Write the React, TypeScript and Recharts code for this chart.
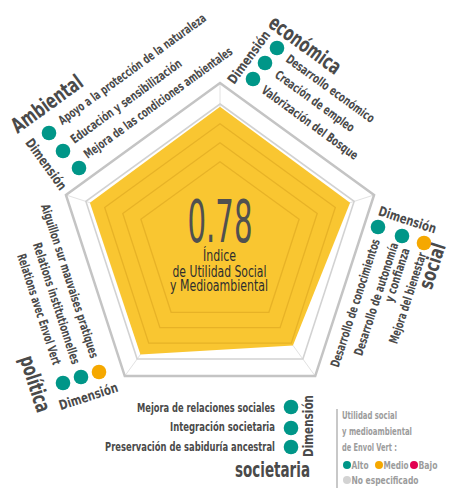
import React from 'react';
import { RadarChart, Radar, PolarGrid, PolarAngleAxis, PolarRadiusAxis } from 'recharts';

// Radar vertices (between the five dimensions) and their scores
const vertices = ['Ambiental / Económica', 'Económica / Social', 'Social / Societaria', 'Societaria / Política', 'Política / Ambiental'];
const vertexValues = [0.98, 0.97, 0.88, 0.96, 0.97];
const ringValues = [0.59, 0.725, 0.86, 1];
const indexValue = '0.78';
const indexLines = ['Índice', 'de Utilidad Social', 'y Medioambiental'];

// Indicators per dimension and their level
const ambientalItems = ['Apoyo a la protección de la naturaleza', 'Educación y sensibilización', 'Mejora de las condiciones ambientales'];
const ambientalStatus = ['alto', 'alto', 'alto'];
const economicaItems = ['Desarrollo económico', 'Creación de empleo', 'Valorización del Bosque'];
const economicaStatus = ['alto', 'alto', 'alto'];
const socialItems = ['Desarrollo de conocimientos', 'Desarrollo de autonomía', 'y confianza', 'Mejora del bienestar'];
const socialStatus = ['alto', 'alto', 'medio'];
const politicaItems = ['Aiguillon sur mauvaises pratiques', 'Relations institutionnelles', 'Relations avec Envol Vert'];
const politicaStatus = ['alto', 'alto', 'medio'];
const societariaItems = ['Mejora de relaciones sociales', 'Integración societaria', 'Preservación de sabiduría ancestral'];
const societariaStatus = ['alto', 'alto', 'alto'];

const legendTitle = ['Utilidad social', 'y medioambiental', 'de Envol Vert :'];
const legendLevels = ['Alto', 'Medio', 'Bajo'];
const legendNone = 'No especificado';

const STATUS_COLORS: Record<string, string> = {
  alto: '#009688',
  medio: '#F5A800',
  bajo: '#E2004F',
  none: '#D3D3D3',
};
const levelKeys = ['alto', 'medio', 'bajo'];

const W = 449;
const H = 488;
const CX = 220;
const CY = 245;
const GRID_R = 141;
const FRAME_R = 162;
const DOMAIN_MAX = FRAME_R / GRID_R;
const FONT = "'Liberation Sans Narrow', 'Arial Narrow', 'DejaVu Sans Condensed', Roboto, sans-serif";
const TEXT = '#4a4a4a';

const chartData = vertices.map((v, i) => ({ vertex: v, value: vertexValues[i] }));

type LabelProps = {
  x: number;
  y: number;
  angle?: number;
  len: number;
  size?: number;
  weight?: number;
  fill?: string;
  anchor?: 'start' | 'middle' | 'end';
  baseline?: string;
  children: React.ReactNode;
};

const Label = ({ x, y, angle = 0, len, size = 12.5, weight = 700, fill = TEXT, anchor = 'middle', baseline = 'central', children }: LabelProps) => (
  <text
    transform={`translate(${x},${y}) rotate(${angle})`}
    textAnchor={anchor}
    dominantBaseline={baseline as any}
    fontSize={size}
    fontWeight={weight}
    fill={fill}
    fontFamily={FONT}
    textLength={len}
    lengthAdjust="spacingAndGlyphs"
  >
    {children}
  </text>
);

const Dots = ({ pts, status, r = 7.3 }: { pts: number[][]; status: string[]; r?: number }) => (
  <g>
    {pts.map((p, i) => (
      <circle key={i} cx={p[0]} cy={p[1]} r={r} fill={STATUS_COLORS[status[i]]} />
    ))}
  </g>
);

const chartProps = {
  width: W,
  height: H,
  cx: CX,
  cy: CY,
  outerRadius: FRAME_R,
  data: chartData,
  margin: { top: 0, right: 0, bottom: 0, left: 0 },
};

export default function App() {
  const rings = ringValues.map((v) => v * GRID_R);
  return (
    <div style={{ position: 'absolute', left: 0, top: 0, width: W, height: H, background: '#fff' }}>
      {/* base: spokes, frame and the yellow score area */}
      <div style={{ position: 'absolute', left: 0, top: 0 }}>
        <RadarChart {...chartProps}>
          <PolarAngleAxis dataKey="vertex" tick={false} axisLine={false} tickLine={false} />
          <PolarRadiusAxis domain={[0, DOMAIN_MAX]} tick={false} axisLine={false} tickLine={false} />
          <PolarGrid gridType="polygon" polarRadius={[]} radialLines stroke="#e2e2e2" strokeWidth={1} />
          <PolarGrid gridType="polygon" polarRadius={[FRAME_R]} radialLines={false} stroke="#c4c4c4" strokeWidth={2.5} />
          <Radar dataKey="value" fill="#F9C631" fillOpacity={1} stroke="none" isAnimationActive={false} />
        </RadarChart>
      </div>

      {/* rings drawn over the yellow area */}
      <div style={{ position: 'absolute', left: 0, top: 0, pointerEvents: 'none' }}>
        <RadarChart {...chartProps}>
          <PolarAngleAxis dataKey="vertex" tick={false} axisLine={false} tickLine={false} />
          <PolarRadiusAxis domain={[0, DOMAIN_MAX]} tick={false} axisLine={false} tickLine={false} />
          <PolarGrid gridType="polygon" polarRadius={rings.slice(0, 3)} radialLines={false} stroke="rgba(170,110,0,0.22)" strokeWidth={1.3} />
          <PolarGrid gridType="polygon" polarRadius={[rings[3]]} radialLines={false} stroke="#d2d2d2" strokeWidth={1.6} />
        </RadarChart>
      </div>

      <svg width={W} height={H} style={{ position: 'absolute', left: 0, top: 0, pointerEvents: 'none' }}>
        {/* index in the centre */}
        <Label x={220} y={242} len={65} size={58} weight={400} fill="#505050" baseline="alphabetic">{indexValue}</Label>
        <Label x={219.5} y={261} len={33} size={16.5} weight={400} fill="#2e2e2e" baseline="alphabetic">{indexLines[0]}</Label>
        <Label x={219.5} y={276.5} len={94} size={16.5} weight={400} fill="#2e2e2e" baseline="alphabetic">{indexLines[1]}</Label>
        <Label x={219} y={291} len={98} size={16.5} weight={400} fill="#2e2e2e" baseline="alphabetic">{indexLines[2]}</Label>

        {/* Ambiental */}
        <Label x={132} y={69} angle={-36} len={179}>{ambientalItems[0]}</Label>
        <Label x={126} y={101} angle={-36} len={134}>{ambientalItems[1]}</Label>
        <Label x={158} y={102.5} angle={-36} len={180}>{ambientalItems[2]}</Label>
        <Label x={47} y={104} angle={-36} len={83} size={21}>Ambiental</Label>
        <Label x={46.5} y={164} angle={54} len={60} size={13.5}>Dimensión</Label>
        <Dots pts={[[49, 133], [63, 151], [79, 168]]} status={ambientalStatus} />

        {/* Económica */}
        <Label x={305} y={45} angle={36} len={84} size={21}>económica</Label>
        <Label x={248.5} y={57} angle={-54} len={62} size={13.5}>Dimensión</Label>
        <Dots pts={[[277, 48], [265, 63], [253, 79]]} status={economicaStatus} />
        <Label x={330.5} y={88.5} angle={36} len={106}>{economicaItems[0]}</Label>
        <Label x={315} y={101} angle={36} len={95}>{economicaItems[1]}</Label>
        <Label x={310} y={122.5} angle={36} len={116}>{economicaItems[2]}</Label>

        {/* Social */}
        <Label x={407.5} y={219.5} angle={18} len={60} size={13.5}>Dimensión</Label>
        <Dots pts={[[378, 227], [402, 236], [424, 243]]} status={socialStatus} />
        <Label x={432} y={266} angle={-72} len={47} size={20}>social</Label>
        <Label x={355} y={303} angle={-72} len={134}>{socialItems[0]}</Label>
        <Label x={376} y={299} angle={-72} len={118}>{socialItems[1]}</Label>
        <Label x={397} y={275} angle={-72} len={56}>{socialItems[2]}</Label>
        <Label x={407.5} y={298} angle={-72} len={95}>{socialItems[3]}</Label>

        {/* Política */}
        <Label x={70} y={281} angle={72} len={161}>{politicaItems[0]}</Label>
        <Label x={56.7} y={303.3} angle={72} len={127}>{politicaItems[1]}</Label>
        <Label x={39.2} y={309.2} angle={72} len={116}>{politicaItems[2]}</Label>
        <Label x={35} y={384} angle={72} len={58} size={21}>política</Label>
        <Label x={88.3} y={396} angle={-18} len={61} size={13.5}>Dimensión</Label>
        <Dots pts={[[63, 383], [81, 377], [99, 372]]} status={politicaStatus} />

        {/* Societaria */}
        <Label x={275} y={411.5} len={138} size={13} anchor="end" baseline="alphabetic">{societariaItems[0]}</Label>
        <Label x={275} y={431} len={105} size={13} anchor="end" baseline="alphabetic">{societariaItems[1]}</Label>
        <Label x={275} y={450.5} len={170} size={13} anchor="end" baseline="alphabetic">{societariaItems[2]}</Label>
        <Dots pts={[[291, 407], [291, 428], [291, 447]]} status={societariaStatus} />
        <Label x={308} y={426} angle={-90} len={62} size={13.5}>Dimensión</Label>
        <Label x={310} y={477} len={75} size={21} anchor="end" baseline="alphabetic">societaria</Label>

        {/* Legend */}
        <line x1={337} y1={409} x2={337} y2={488} stroke="#c8c8c8" strokeWidth={2} />
        <Label x={342} y={419} len={55} size={10.5} fill="#9c9c9c" anchor="start" baseline="alphabetic">{legendTitle[0]}</Label>
        <Label x={342} y={435} len={70} size={10.5} fill="#9c9c9c" anchor="start" baseline="alphabetic">{legendTitle[1]}</Label>
        <Label x={342} y={451} len={55} size={10.5} fill="#9c9c9c" anchor="start" baseline="alphabetic">{legendTitle[2]}</Label>
        {legendLevels.map((lv, i) => {
          const xs = [347, 379, 414];
          const lens = [17, 25, 19];
          return (
            <g key={lv}>
              <circle cx={xs[i]} cy={465} r={4} fill={STATUS_COLORS[levelKeys[i]]} />
              <Label x={xs[i] + 4.5} y={468.5} len={lens[i]} size={10.5} fill="#9c9c9c" anchor="start" baseline="alphabetic">{lv}</Label>
            </g>
          );
        })}
        <circle cx={347} cy={480} r={4} fill={STATUS_COLORS.none} />
        <Label x={351.5} y={484} len={67} size={10.5} fill="#9c9c9c" anchor="start" baseline="alphabetic">{legendNone}</Label>
      </svg>
    </div>
  );
}
